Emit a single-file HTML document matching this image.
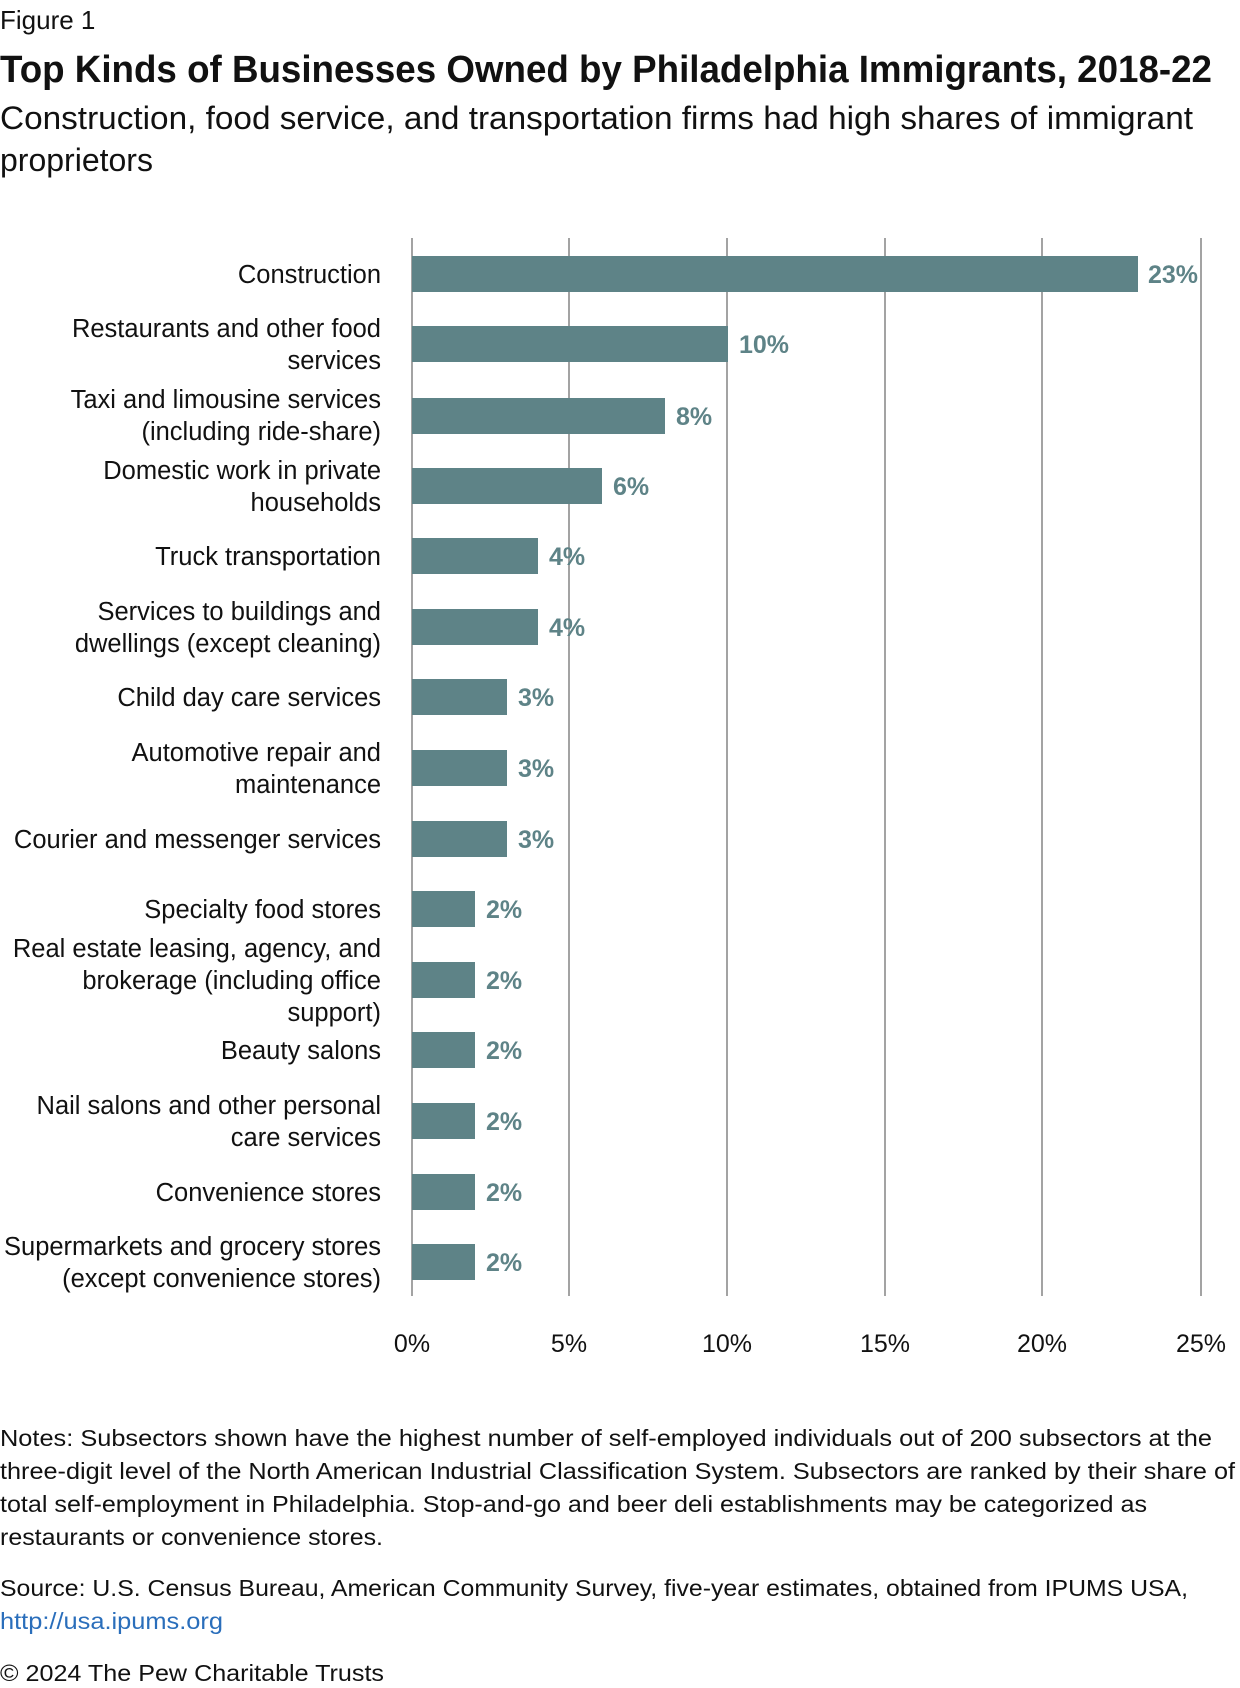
<!DOCTYPE html>
<html><head><meta charset="utf-8"><style>
html,body{margin:0;padding:0;background:#fff;}
svg{display:block;font-family:"Liberation Sans",sans-serif;}
.lab{font-size:25.5px;fill:#111;text-anchor:end;}
.val{font-size:25px;font-weight:bold;fill:#5e8387;}
.tick{font-size:25px;fill:#111;text-anchor:middle;}
.note{font-size:23px;fill:#111;}
</style></head><body>
<svg width="1240" height="1688" viewBox="0 0 1240 1688" xmlns="http://www.w3.org/2000/svg">
<text x="0" y="29" font-size="26" fill="#111">Figure 1</text>
<text x="0" y="82" font-size="38" font-weight="bold" fill="#111" textLength="1212" lengthAdjust="spacingAndGlyphs">Top Kinds of Businesses Owned by Philadelphia Immigrants, 2018-22</text>
<text x="0" y="129" font-size="32" fill="#111" textLength="1193" lengthAdjust="spacingAndGlyphs">Construction, food service, and transportation firms had high shares of immigrant</text>
<text x="0" y="171" font-size="32" fill="#111">proprietors</text>
<g stroke="#a3a3a3" stroke-width="2">
<line x1="412" y1="238" x2="412" y2="1296"/><line x1="569" y1="238" x2="569" y2="1296"/><line x1="727" y1="238" x2="727" y2="1296"/><line x1="885" y1="238" x2="885" y2="1296"/><line x1="1042" y1="238" x2="1042" y2="1296"/><line x1="1201" y1="238" x2="1201" y2="1296"/>
</g>
<g class="tick">
<text x="412" y="1352">0%</text><text x="569" y="1352">5%</text><text x="727" y="1352">10%</text><text x="885" y="1352">15%</text><text x="1042" y="1352">20%</text><text x="1201" y="1352">25%</text>
</g>
<g fill="#5e8387">
<rect x="412" y="256" width="726" height="36"/>
<rect x="412" y="326" width="316" height="36"/>
<rect x="412" y="398" width="253" height="36"/>
<rect x="412" y="468" width="190" height="36"/>
<rect x="412" y="538" width="126" height="36"/>
<rect x="412" y="609" width="126" height="36"/>
<rect x="412" y="679" width="95" height="36"/>
<rect x="412" y="750" width="95" height="36"/>
<rect x="412" y="821" width="95" height="36"/>
<rect x="412" y="891" width="63" height="36"/>
<rect x="412" y="962" width="63" height="36"/>
<rect x="412" y="1032" width="63" height="36"/>
<rect x="412" y="1103" width="63" height="36"/>
<rect x="412" y="1174" width="63" height="36"/>
<rect x="412" y="1244" width="63" height="36"/>
</g>
<g class="val">
<text x="1148" y="283">23%</text>
<text x="739" y="353">10%</text>
<text x="676" y="425">8%</text>
<text x="613" y="495">6%</text>
<text x="549" y="565">4%</text>
<text x="549" y="636">4%</text>
<text x="518" y="706">3%</text>
<text x="518" y="777">3%</text>
<text x="518" y="848">3%</text>
<text x="486" y="918">2%</text>
<text x="486" y="989">2%</text>
<text x="486" y="1059">2%</text>
<text x="486" y="1130">2%</text>
<text x="486" y="1201">2%</text>
<text x="486" y="1271">2%</text>
</g>
<g class="lab">
<text x="381" y="283">Construction</text>
<text x="381" y="337">Restaurants and other food</text><text x="381" y="369">services</text>
<text x="381" y="408">Taxi and limousine services</text><text x="381" y="440">(including ride-share)</text>
<text x="381" y="479">Domestic work in private</text><text x="381" y="511">households</text>
<text x="381" y="565">Truck transportation</text>
<text x="381" y="620">Services to buildings and</text><text x="381" y="652">dwellings (except cleaning)</text>
<text x="381" y="706">Child day care services</text>
<text x="381" y="761">Automotive repair and</text><text x="381" y="793">maintenance</text>
<text x="381" y="848">Courier and messenger services</text>
<text x="381" y="918">Specialty food stores</text>
<text x="381" y="957">Real estate leasing, agency, and</text><text x="381" y="989">brokerage (including office</text><text x="381" y="1021">support)</text>
<text x="381" y="1059">Beauty salons</text>
<text x="381" y="1114">Nail salons and other personal</text><text x="381" y="1146">care services</text>
<text x="381" y="1201">Convenience stores</text>
<text x="381" y="1255">Supermarkets and grocery stores</text><text x="381" y="1287">(except convenience stores)</text>
</g>
<g class="note">
<text x="0" y="1446" textLength="1212" lengthAdjust="spacingAndGlyphs">Notes: Subsectors shown have the highest number of self-employed individuals out of 200 subsectors at the</text>
<text x="0" y="1479" textLength="1235" lengthAdjust="spacingAndGlyphs">three-digit level of the North American Industrial Classification System. Subsectors are ranked by their share of</text>
<text x="0" y="1512" textLength="1147" lengthAdjust="spacingAndGlyphs">total self-employment in Philadelphia. Stop-and-go and beer deli establishments may be categorized as</text>
<text x="0" y="1545" textLength="383" lengthAdjust="spacingAndGlyphs">restaurants or convenience stores.</text>
<text x="0" y="1596" textLength="1188" lengthAdjust="spacingAndGlyphs">Source: U.S. Census Bureau, American Community Survey, five-year estimates, obtained from IPUMS USA,</text>
<text x="0" y="1629" fill="#2a6ebb" textLength="223" lengthAdjust="spacingAndGlyphs">http://usa.ipums.org</text>
<text x="0" y="1681" textLength="384" lengthAdjust="spacingAndGlyphs">© 2024 The Pew Charitable Trusts</text>
</g>
</svg>
</body></html>
